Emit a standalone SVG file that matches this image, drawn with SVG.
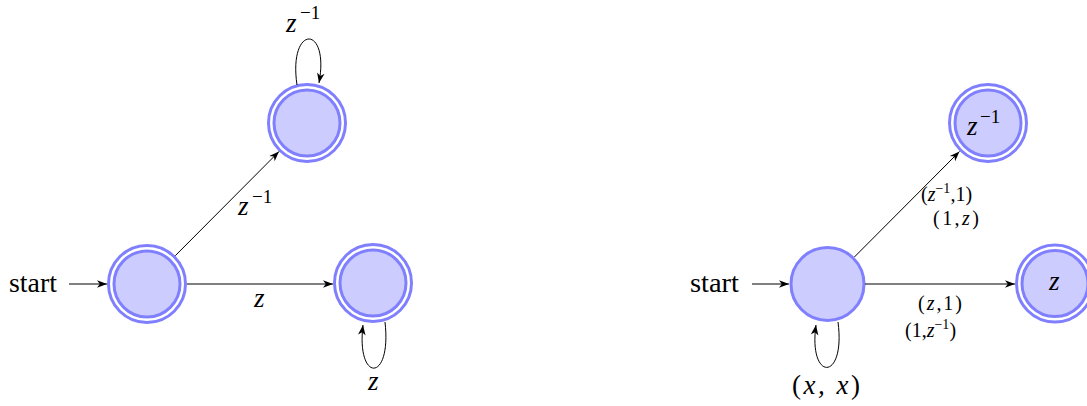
<svg xmlns="http://www.w3.org/2000/svg" width="1087" height="406" viewBox="0 0 1087 406">
  <style>
    .ring { fill: #ffffff; stroke: #8080ff; stroke-width: 3; }
    .core { fill: #ccccff; stroke: #8080ff; stroke-width: 3; }
    .edge { fill: none; stroke: #000000; stroke-width: 1; marker-end: url(#tip); }
    text { font-family: 'Liberation Serif', 'Times New Roman', serif; fill: #000000; }
    .rm { font-size: 28px; }
    .m { font-size: 27px; font-style: italic; }
    .sup { font-size: 19px; font-style: normal; }
    .sm { font-size: 20px; }
    .smsup { font-size: 14px; font-style: normal; }
    .it { font-style: italic; }
  </style>
  <defs>
    <marker id="tip" markerUnits="userSpaceOnUse" markerWidth="12" markerHeight="10" viewBox="-11 -5 12 10" refX="0" refY="0" orient="auto">
      <path d="M0,0 L-10,-3.8 L-7.2,0 L-10,3.8 Z" fill="#000000"/>
    </marker>
  </defs>

  <!-- left automaton: states -->
  <g id="q0">
    <circle class="ring" cx="147" cy="284" r="38.5"/>
    <circle class="core" cx="147" cy="284" r="33"/>
  </g>
  <g id="q1">
    <circle class="ring" cx="307" cy="123" r="38.5"/>
    <circle class="core" cx="307" cy="123" r="33"/>
  </g>
  <g id="q2">
    <circle class="ring" cx="373" cy="283" r="38.5"/>
    <circle class="core" cx="373" cy="283" r="33"/>
  </g>

  <!-- right automaton: states -->
  <g id="p0">
    <circle class="core" cx="827.5" cy="284" r="36.5"/>
  </g>
  <g id="p1">
    <circle class="ring" cx="988" cy="123" r="38.5"/>
    <circle class="core" cx="988" cy="123" r="33"/>
    <text class="m" x="967" y="135">z<tspan class="sup" x="980" dy="-12">−1</tspan></text>
  </g>
  <g id="p2">
    <circle class="ring" cx="1055" cy="283.5" r="38.5"/>
    <circle class="core" cx="1055" cy="283.5" r="33"/>
    <text class="m" x="1049" y="290">z</text>
  </g>

  <!-- transitions -->
  <g id="connectors">
    <!-- left -->
    <line class="edge" x1="69" y1="284" x2="107" y2="284"/>
    <line class="edge" x1="187" y1="284" x2="333" y2="284"/>
    <line class="edge" x1="175.3" y1="255.7" x2="279" y2="151.5"/>
    <path class="edge" d="M297,85 C288,24 330,24 319,83"/>
    <path class="edge" d="M385,322 C392,383 356,383 363,325"/>
    <!-- right -->
    <line class="edge" x1="752" y1="284" x2="789" y2="284"/>
    <line class="edge" x1="865" y1="284" x2="1015" y2="284"/>
    <line class="edge" x1="854.4" y1="257" x2="959.5" y2="151.5"/>
    <path class="edge" d="M838,322 C846,382 808,382 816,325"/>
  </g>

  <!-- edge labels -->
  <g id="labels">
    <text class="rm" x="9" y="292" textLength="48" lengthAdjust="spacingAndGlyphs">start</text>
    <text class="m" x="286" y="32">z<tspan class="sup" x="300" dy="-13">−1</tspan></text>
    <text class="m" x="238" y="215">z<tspan class="sup" x="252" dy="-12">−1</tspan></text>
    <text class="m" x="254" y="307">z</text>
    <text class="m" x="368" y="390">z</text>

    <text class="rm" x="690" y="292" textLength="49" lengthAdjust="spacingAndGlyphs">start</text>
    <text class="sm" x="921" y="201">(<tspan class="it">z</tspan><tspan class="smsup" dy="-8">−1</tspan><tspan dy="8">,1)</tspan></text>
    <text class="sm" x="933" y="225" textLength="46" lengthAdjust="spacing">(1,<tspan class="it">z</tspan>)</text>
    <text class="sm" x="918" y="310" textLength="44" lengthAdjust="spacing">(<tspan class="it">z</tspan>,1)</text>
    <text class="sm" x="905" y="337">(1,<tspan class="it">z</tspan><tspan class="smsup" dy="-8">−1</tspan><tspan dy="8">)</tspan></text>
    <text class="m" x="792" y="394" textLength="68" lengthAdjust="spacing"><tspan font-style="normal">(</tspan>x, x<tspan font-style="normal">)</tspan></text>
  </g>
</svg>
